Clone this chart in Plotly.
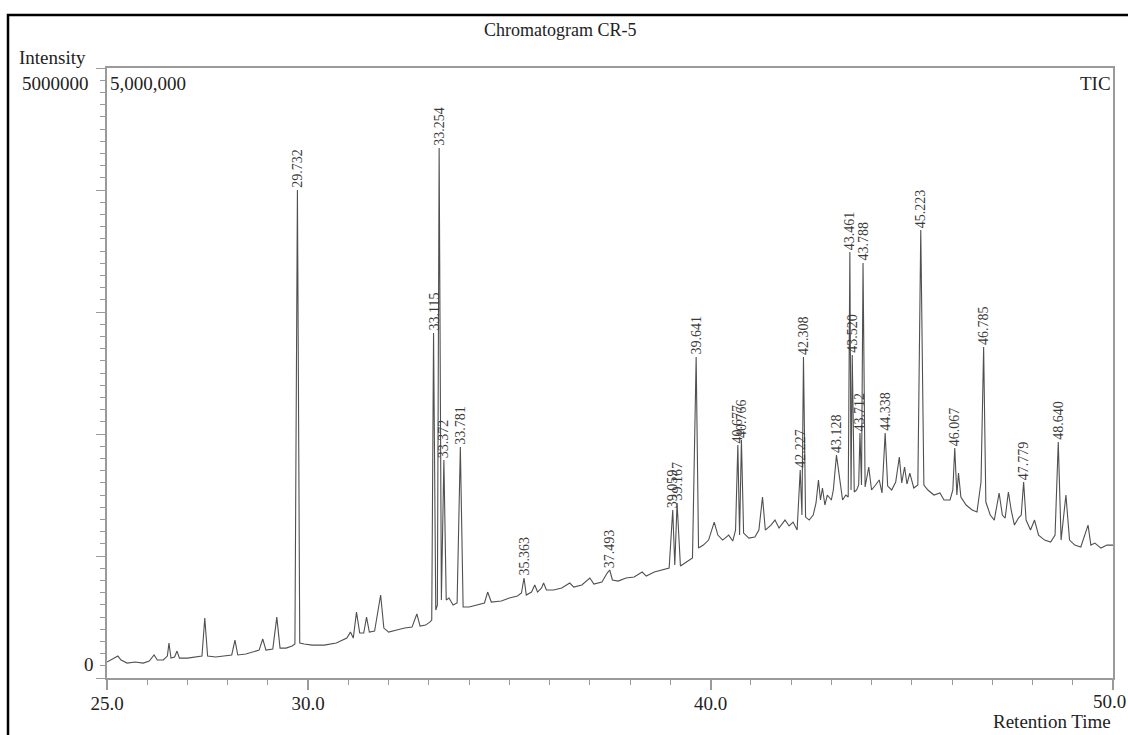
import plotly.graph_objects as go

# ---------------- data ----------------
retention_time = [
    25.00, 25.10, 25.20, 25.27, 25.35, 25.50, 25.70, 25.90, 26.05, 26.17,
    26.25, 26.40, 26.50, 26.54, 26.59, 26.68, 26.74, 26.80, 27.00, 27.20,
    27.36, 27.43, 27.50, 27.70, 27.90, 28.10, 28.18, 28.25, 28.45, 28.62,
    28.78, 28.87, 28.95, 29.12, 29.22, 29.30, 29.45, 29.60, 29.67, 29.732,
    29.79, 29.90, 30.10, 30.40, 30.70, 30.96, 31.05, 31.12, 31.20, 31.28,
    31.38, 31.45, 31.52, 31.65, 31.80, 31.88, 32.00, 32.20, 32.40, 32.58,
    32.70, 32.78, 32.92, 33.02, 33.07, 33.115, 33.17, 33.21, 33.254, 33.31,
    33.372, 33.43, 33.50, 33.60, 33.70, 33.781, 33.85, 34.00, 34.20, 34.38,
    34.46, 34.55, 34.80, 35.00, 35.20, 35.30, 35.363, 35.42, 35.55, 35.63,
    35.70, 35.80, 35.85, 35.92, 36.10, 36.30, 36.50, 36.60, 36.80, 37.00,
    37.10, 37.30, 37.43, 37.493, 37.56, 37.70, 37.90, 38.10, 38.30, 38.40,
    38.60, 38.80, 38.97, 39.059, 39.11, 39.167, 39.25, 39.40, 39.55, 39.641,
    39.70, 39.82, 39.95, 40.09, 40.18, 40.30, 40.45, 40.55, 40.62, 40.677,
    40.72, 40.766, 40.82, 40.95, 41.10, 41.20, 41.29, 41.36, 41.50, 41.60,
    41.70, 41.85, 41.95, 42.05, 42.15, 42.227, 42.27, 42.308, 42.36, 42.45,
    42.55, 42.62, 42.68, 42.73, 42.78, 42.84, 42.90, 43.00, 43.05, 43.128,
    43.20, 43.28, 43.36, 43.42, 43.461, 43.49, 43.520, 43.57, 43.63, 43.68,
    43.712, 43.75, 43.788, 43.84, 43.93, 44.00, 44.10, 44.19, 44.26, 44.338,
    44.40, 44.50, 44.60, 44.69, 44.75, 44.82, 44.88, 44.95, 45.05, 45.15,
    45.223, 45.30, 45.40, 45.55, 45.70, 45.80, 45.95, 46.02, 46.067, 46.12,
    46.16, 46.22, 46.35, 46.50, 46.62, 46.72, 46.785, 46.84, 46.95, 47.05,
    47.17, 47.25, 47.32, 47.40, 47.47, 47.55, 47.65, 47.72, 47.779, 47.84,
    47.95, 48.05, 48.15, 48.30, 48.45, 48.56, 48.640, 48.71, 48.83, 48.92,
    49.05, 49.20, 49.38, 49.45, 49.55, 49.70, 49.85, 50.00,
]

intensity = [
    17000, 34000, 50000, 67000, 34000, 8000, 17000, 8000, 25000, 76000,
    34000, 34000, 67000, 176000, 50000, 59000, 109000, 50000, 50000, 59000,
    67000, 386000, 67000, 59000, 67000, 76000, 201000, 76000, 84000, 101000,
    117000, 210000, 117000, 126000, 394000, 134000, 134000, 151000, 168000, 3977000,
    176000, 168000, 159000, 159000, 176000, 218000, 268000, 218000, 436000, 260000,
    260000, 394000, 268000, 277000, 579000, 302000, 268000, 285000, 302000, 310000,
    420000, 319000, 327000, 352000, 369000, 2777000, 453000, 495000, 4329000, 537000,
    1712000, 537000, 554000, 495000, 512000, 1821000, 478000, 478000, 495000, 512000,
    604000, 520000, 529000, 554000, 571000, 596000, 722000, 579000, 604000, 663000,
    604000, 638000, 680000, 621000, 621000, 638000, 680000, 646000, 663000, 722000,
    671000, 688000, 763000, 789000, 705000, 696000, 722000, 730000, 772000, 738000,
    772000, 789000, 805000, 1292000, 831000, 1351000, 822000, 856000, 889000, 2576000,
    973000, 998000, 1040000, 1191000, 1082000, 1040000, 1082000, 1032000, 1124000, 1837000,
    1082000, 1879000, 1099000, 1057000, 1066000, 1124000, 1401000, 1124000, 1166000, 1208000,
    1141000, 1208000, 1158000, 1191000, 1124000, 1628000, 1250000, 2576000, 1233000, 1208000,
    1250000, 1351000, 1544000, 1376000, 1477000, 1334000, 1418000, 1376000, 1460000, 1753000,
    1561000, 1376000, 1418000, 1401000, 3457000, 1460000, 2593000, 1443000, 1460000, 1502000,
    1938000, 1502000, 3364000, 1485000, 1653000, 1460000, 1502000, 1544000, 1435000, 1938000,
    1493000, 1460000, 1527000, 1737000, 1519000, 1653000, 1510000, 1602000, 1477000, 1502000,
    3641000, 1502000, 1460000, 1418000, 1435000, 1376000, 1376000, 1460000, 1812000, 1418000,
    1602000, 1401000, 1334000, 1292000, 1275000, 1527000, 2660000, 1359000, 1250000, 1208000,
    1435000, 1250000, 1225000, 1443000, 1292000, 1166000, 1225000, 1250000, 1527000, 1208000,
    1124000, 1208000, 1082000, 1040000, 1024000, 1082000, 1863000, 1040000, 1418000, 1040000,
    998000, 982000, 1166000, 998000, 1015000, 973000, 998000, 998000,
]

peak_rt = [
    29.732, 33.115, 33.254, 33.372, 33.781, 35.363, 37.493, 39.059, 39.167,
    39.641, 40.677, 40.766, 42.227, 42.308, 43.128, 43.461, 43.520, 43.712,
    43.788, 44.338, 45.223, 46.067, 46.785, 47.779, 48.640,
]
peak_height = [
    3977000, 2777000, 4329000, 1712000, 1821000, 722000, 789000, 1292000, 1351000,
    2576000, 1837000, 1879000, 1628000, 2576000, 1753000, 3457000, 2593000, 1938000,
    3364000, 1938000, 3641000, 1812000, 2660000, 1527000, 1863000,
]

x_tick_vals = [25, 30, 40, 50]
x_tick_text = ["25.0", "30.0", "40.0", ""]
x_end_value = 50
x_end_label = "50.0"
y_max = 5000000
y_min = -117000
y_label_top = "5000000"
y_label_zero = "0"
scale_label = "5,000,000"
title_text = "Chromatogram CR-5"

# ---------------- figure ----------------
SERIF = "Liberation Serif, Times New Roman, serif"
AXIS_GRAY = "#9a9a9a"

fig = go.Figure()
fig.add_trace(go.Scatter(
    x=retention_time, y=intensity, mode="lines",
    line=dict(color="#505050", width=1.1),
    hoverinfo="skip", showlegend=False,
))

for rt, h in zip(peak_rt, peak_height):
    fig.add_annotation(
        x=rt, y=h, text=f"{rt:.3f}", textangle=-90, showarrow=False,
        xanchor="center", yanchor="bottom", yshift=0,
        font=dict(family=SERIF, size=14, color="#3a3a3a"),
    )

span = y_max - y_min
y_major = [y_min + k * span / 5 for k in range(6)]
y_minor = [y_min + k * span / 50 for k in range(51)]

fig.update_layout(
    width=1128, height=735, autosize=False,
    margin=dict(l=107, r=15, t=68, b=57, autoexpand=False),
    paper_bgcolor="white", plot_bgcolor="white",
    showlegend=False,
    xaxis=dict(
        range=[25, 50], tickmode="array", tickvals=x_tick_vals, ticktext=x_tick_text,
        ticks="outside", ticklen=10, tickwidth=1.5, tickcolor=AXIS_GRAY,
        ticklabelstandoff=-3, automargin=False,
        showline=True, linecolor=AXIS_GRAY, linewidth=2, mirror=True,
        showgrid=False, zeroline=False,
        tickfont=dict(family=SERIF, size=19, color="#222"),
        minor=dict(tickmode="linear", tick0=25, dtick=1, ticks="outside",
                   ticklen=5, tickwidth=1.2, tickcolor=AXIS_GRAY, showgrid=False),
    ),
    yaxis=dict(
        range=[y_min, y_max], tickmode="array", tickvals=y_major,
        showticklabels=False, ticks="outside", ticklen=9, tickwidth=1.2,
        tickcolor=AXIS_GRAY, automargin=False,
        showline=True, linecolor=AXIS_GRAY, linewidth=2, mirror=True,
        showgrid=False, zeroline=False,
        minor=dict(tickmode="array", tickvals=y_minor, ticks="outside",
                   ticklen=5, tickwidth=1.2, tickcolor=AXIS_GRAY, showgrid=False),
    ),
)

txt = dict(family=SERIF, size=19, color="#222")
# last x tick label, nudged so it stays inside the page
fig.add_annotation(text=x_end_label, xref="x", yref="paper", x=x_end_value, y=-0.0393,
                   xanchor="right", yanchor="middle", xshift=15, showarrow=False, font=txt)
fig.add_annotation(text=title_text, xref="paper", yref="paper", x=0.4503, y=1.0623,
                   xanchor="center", yanchor="middle", showarrow=False,
                   font=dict(family=SERIF, size=18, color="#222"))
fig.add_annotation(text="Intensity", xref="paper", yref="paper", x=-0.0895, y=1.0164,
                   xanchor="left", yanchor="middle", showarrow=False, font=txt)
fig.add_annotation(text=y_label_top, xref="paper", yref="paper", x=-0.0159, y=0.9754,
                   xanchor="right", yanchor="middle", showarrow=False, font=txt)
fig.add_annotation(text=y_label_zero, xref="paper", yref="y", x=-0.011, y=0,
                   xanchor="right", yanchor="middle", showarrow=False, font=txt)
fig.add_annotation(text=scale_label, xref="paper", yref="paper", x=0.001, y=0.9754,
                   xanchor="left", yanchor="middle", showarrow=False, font=txt)
fig.add_annotation(text="TIC", xref="paper", yref="paper", x=1.0, y=0.9754,
                   xanchor="right", yanchor="middle", showarrow=False, font=txt)
fig.add_annotation(text="Retention Time", xref="paper", yref="paper", x=1.0, y=-0.0721,
                   xanchor="right", yanchor="middle", showarrow=False, font=txt)

# outer black frame (extends past the right and bottom edges of the page)
fig.add_shape(type="rect", xref="paper", yref="paper",
              x0=-0.0984, x1=1.3, y0=-0.5, y1=1.0869,
              line=dict(color="black", width=2.5), fillcolor="rgba(0,0,0,0)", layer="above")

fig.write_html(
    "out.html",
    config={"displayModeBar": False},
    post_script="document.body.style.margin='0';document.body.style.overflow='hidden';",
)
